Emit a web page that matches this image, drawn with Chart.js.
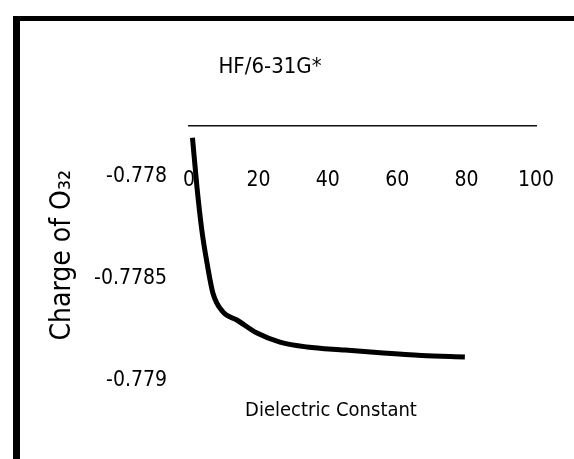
<!DOCTYPE html>
<html>
<head>
<meta charset="utf-8">
<script src="https://cdn.jsdelivr.net/npm/chart.js@4"></script>
<style>
    html, body { margin: 0; padding: 0; background: #fff; }
    #wrap { position: relative; width: 574px; height: 459px; overflow: hidden; }
    #chart { position: absolute; left: 0; top: 0; }
    /* scanned figure frame */
    #frame {
        position: absolute; left: 13px; top: 16px; right: 0; bottom: 0;
        border-top: 5px solid #000; border-left: 7px solid #000;
        pointer-events: none;
    }
</style>
</head>
<body>
<div id="wrap">
    <canvas id="chart" width="574" height="459"></canvas>
    <div id="frame"></div>
</div>
<script>
// values
const dielectric = [1, 2.3, 3.7, 5.2, 6.9, 9.8, 13.8, 19.6, 26.2, 34, 45, 56, 67, 79.5];
const chargeO32 = [-0.77781, -0.778053, -0.778263, -0.778424, -0.778571, -0.778663, -0.778702,
    -0.778766, -0.77881, -0.778834, -0.778849, -0.778864, -0.778876, -0.778883];

const xTicks = [0, 20, 40, 60, 80, 100];
const yTicks = [-0.778, -0.7785, -0.779];
const yTickLabels = ['-0.778', '-0.7785', '-0.779'];
const xTitle = 'Dielectric Constant';

const FONT = "'DejaVu Sans Condensed', 'DejaVu Sans', sans-serif";

const points = dielectric.map((x, i) => ({ x: x, y: chargeO32[i] }));

// x axis title sits inside the plot, a bit left of centre
const xTitlePlugin = {
    id: 'xTitle',
    afterDraw(chart) {
        const { ctx, chartArea } = chart;
        ctx.save();
        ctx.font = '20px ' + FONT;
        ctx.fillStyle = '#000';
        ctx.textAlign = 'center';
        ctx.textBaseline = 'middle';
        ctx.fillText(xTitle, chartArea.left + 142, chartArea.top + 285);
        ctx.restore();
    }
};

new Chart(document.getElementById('chart'), {
    type: 'line',
    data: {
        datasets: [{
            label: 'HF/6-31G*',
            data: points,
            borderColor: '#000',
            borderWidth: 5,
            pointRadius: 0,
            fill: false,
            cubicInterpolationMode: 'monotone'
        }]
    },
    options: {
        responsive: false,
        animation: false,
        layout: {
            padding: { left: 4, right: 38, top: 0, bottom: 74 }
        },
        plugins: {
            legend: { display: false },
            tooltip: { enabled: false },
            title: {
                display: true,
                text: 'HF/6-31G*',
                color: '#000',
                font: { family: FONT, size: 22, weight: 'normal' },
                padding: { top: 54, bottom: 45 }
            }
        },
        scales: {
            x: {
                type: 'linear',
                position: 'top',
                min: 0,
                max: 100,
                afterBuildTicks: axis => { axis.ticks = xTicks.map(v => ({ value: v })); },
                // labels sit below the top axis line, inside the plot
                afterFit: axis => {
                    axis.height = 0;
                    axis.paddingLeft = 0;
                    axis.paddingRight = 0;
                },
                grid: { display: false, drawTicks: false },
                border: { display: true, color: '#111', width: 1.5 },
                ticks: {
                    mirror: true,
                    padding: 43,
                    maxRotation: 0,
                    color: '#000',
                    font: { family: FONT, size: 21 }
                }
            },
            y: {
                type: 'linear',
                min: -0.77902,
                max: -0.77775,
                afterBuildTicks: axis => { axis.ticks = yTicks.map(v => ({ value: v })); },
                afterFit: axis => { axis.width = 185; },
                grid: { display: false },
                border: { display: false },
                ticks: {
                    padding: 14,
                    color: '#000',
                    font: { family: FONT, size: 21 },
                    callback: (value, index) => yTickLabels[index]
                },
                title: {
                    display: true,
                    text: 'Charge of O₃₂',
                    color: '#000',
                    font: { family: FONT, size: 28 },
                    padding: { top: 42, bottom: 0 }
                }
            }
        }
    },
    plugins: [xTitlePlugin]
});
</script>
</body>
</html>
